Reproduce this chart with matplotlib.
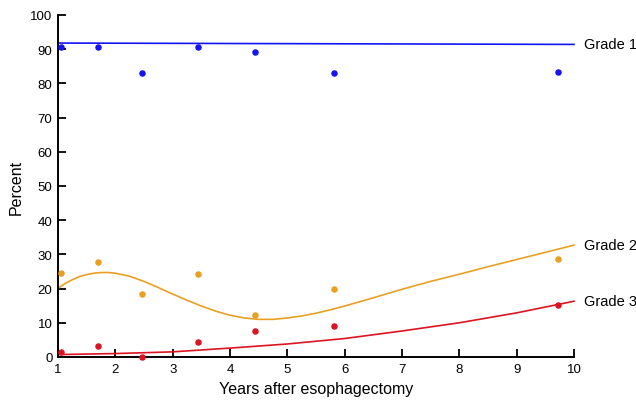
import matplotlib
matplotlib.use('Agg')
import matplotlib.pyplot as plt

plt.rcParams['font.family'] = ['Liberation Sans', 'DejaVu Sans']

# observed points (years after esophagectomy, percent)
years = [1.05, 1.69, 2.46, 3.45, 4.44, 5.81, 9.72]
grade1_pts = [90.7, 90.7, 83.0, 90.7, 89.2, 83.0, 83.2]
grade2_pts = [24.6, 27.7, 18.4, 24.2, 12.3, 20.0, 28.7]
grade3_pts = [1.6, 3.1, 0.0, 4.5, 7.7, 9.2, 15.1]

# fitted curves
g1_x = [1.0, 10.0]
g1_fit = [91.8, 91.4]

g2_x = [1.0, 1.125, 1.25, 1.375, 1.5, 1.625, 1.75, 1.875, 2.0, 2.25, 2.5,
        2.75, 3.0, 3.25, 3.5, 3.75, 4.0, 4.25, 4.5, 4.75, 5.0, 5.25, 5.5,
        5.75, 6.0, 6.5, 7.0, 7.5, 8.0, 8.5, 9.0, 9.5, 10.0]
g2_fit = [20.1, 21.5, 22.6, 23.5, 24.1, 24.5, 24.7, 24.7, 24.5, 23.6, 22.1,
          20.3, 18.4, 16.6, 14.9, 13.4, 12.2, 11.4, 11.0, 11.0, 11.4, 12.0,
          12.8, 13.8, 14.9, 17.3, 19.8, 22.1, 24.2, 26.4, 28.5, 30.6, 32.7]

g3_x = [1.0, 2.0, 3.0, 4.0, 5.0, 6.0, 7.0, 8.0, 9.0, 10.0]
g3_fit = [0.7, 1.0, 1.5, 2.6, 3.8, 5.4, 7.6, 10.0, 12.9, 16.3]

labels = ['Grade 1', 'Grade 2', 'Grade 3']
colors = ['#1414f5', '#e8a023', '#dc1422']

fig = plt.figure(figsize=(6.36, 4.02), dpi=100)
ax = fig.add_axes([0.0912, 0.1095, 0.8113, 0.8507])

fits = [(g1_x, g1_fit), (g2_x, g2_fit), (g3_x, g3_fit)]
pts = [grade1_pts, grade2_pts, grade3_pts]
for (fx, fy), py, c, lab in zip(fits, pts, colors, labels):
    ax.plot(fx, fy, color=c, linewidth=1.2, clip_on=False,
            solid_joinstyle='round')
    ax.scatter(years, py, s=22, color=c, zorder=3, clip_on=False,
               linewidths=0)
    ax.annotate(lab, xy=(fx[-1], fy[-1]), xytext=(7, 0),
                textcoords='offset points', va='center', ha='left',
                fontsize=10.5, annotation_clip=False)

ax.set_xlim(1, 10)
ax.set_ylim(0, 100)
ax.set_xticks(range(1, 11))
ax.set_yticks(range(0, 101, 10))
for s in ['top', 'right']:
    ax.spines[s].set_visible(False)
for s in ['left', 'bottom']:
    ax.spines[s].set_linewidth(1.4)
ax.tick_params(direction='in', length=6, width=1.3, labelsize=9.5, pad=4)
ax.set_xlabel('Years after esophagectomy', fontsize=11.5, labelpad=5)
ax.set_ylabel('Percent', fontsize=11.5, labelpad=5)

fig.savefig('out.png', dpi=100)
